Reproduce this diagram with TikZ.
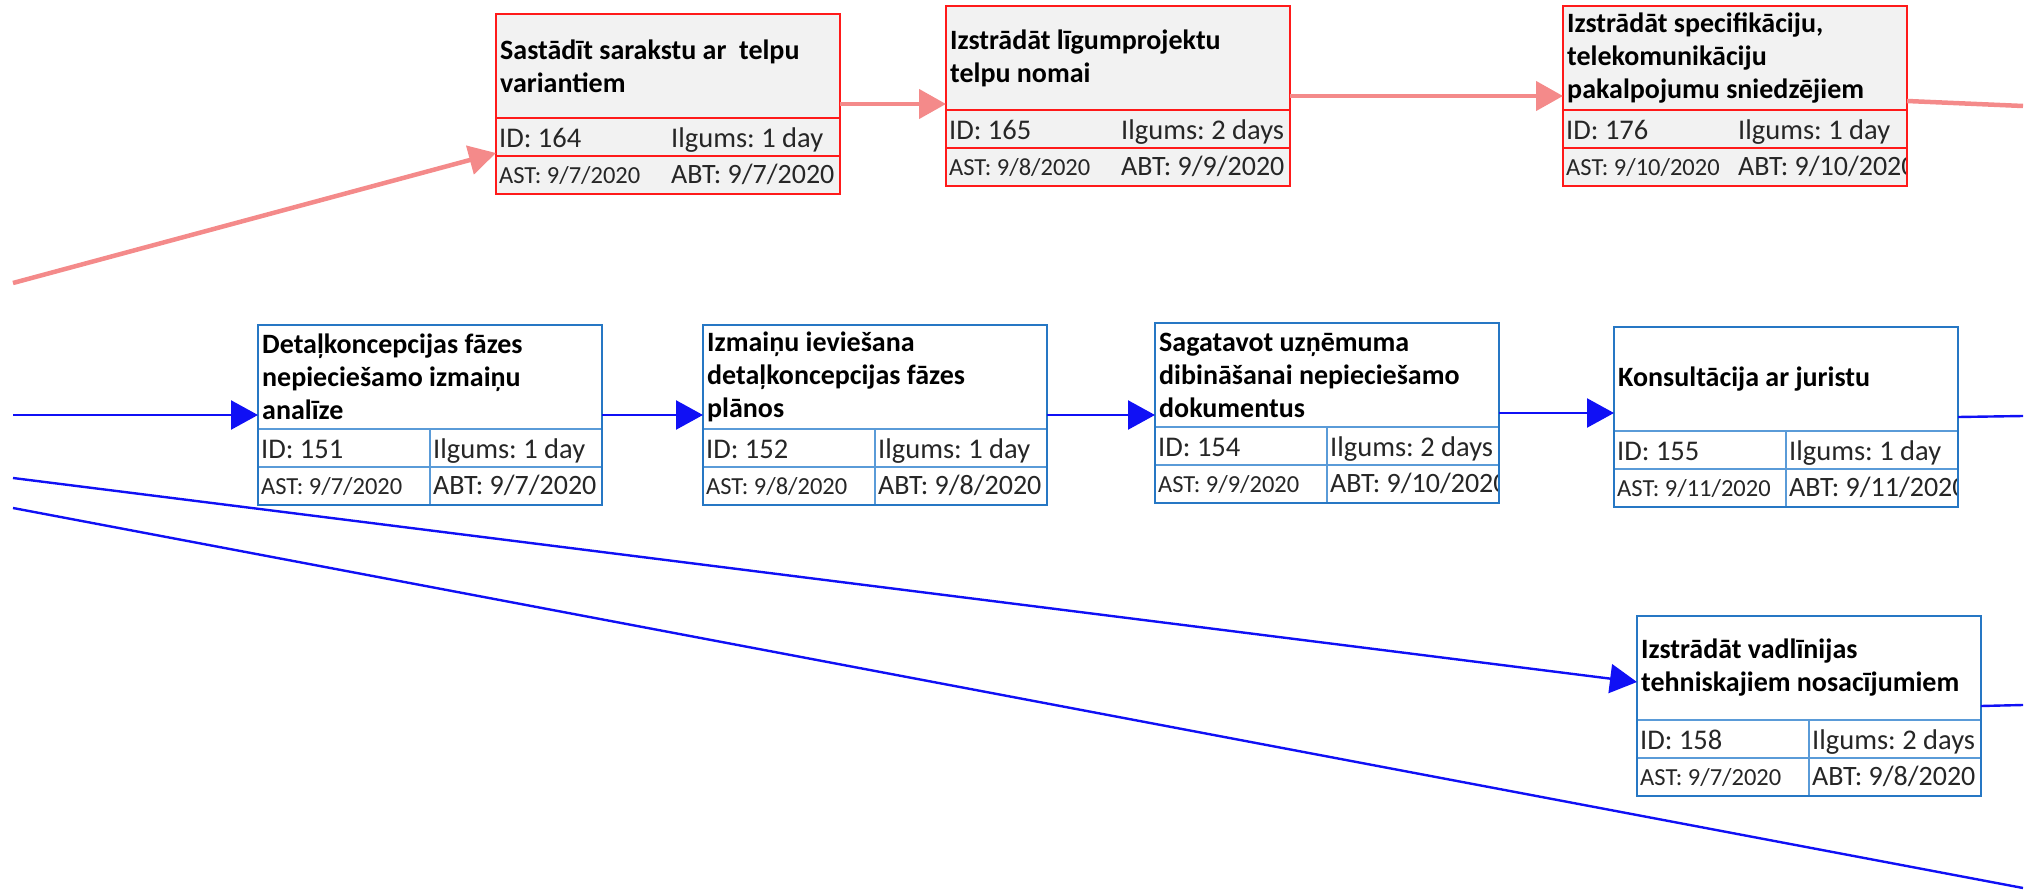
\documentclass[tikz,border=0pt]{standalone}
\usepackage{fontspec}
\setmainfont{Carlito}
\usetikzlibrary{arrows.meta,calc}
\frenchspacing

\definecolor{redfill}{HTML}{F2F2F2}
\definecolor{redframe}{HTML}{FF1A1A}
\definecolor{pinkflow}{HTML}{F48A8A}
\definecolor{blueframe}{HTML}{2677C4}
\definecolor{bluegridc}{HTML}{5A9BD8}
\definecolor{blueflow}{HTML}{1010F5}

\tikzset{
  redbody/.style={fill=redfill},
  redborder/.style={draw=redframe, line width=2pt},
  redgrid/.style={draw=redframe, line width=1.4pt},
  redvdiv/.style={draw=none},
  bluebody/.style={fill=white},
  blueborder/.style={draw=blueframe, line width=2.4pt},
  bluegrid/.style={draw=bluegridc, line width=1.4pt},
  bluevdiv/.style={draw=bluegridc, line width=1.4pt},
  titletext/.style={anchor=west, align=left, inner sep=0pt,
    font=\fontsize{28}{33}\selectfont\bfseries},
  idtext/.style={anchor=base west, inner sep=0pt,
    font=\fontsize{28.5}{30}\selectfont, text=black!85},
  datetext/.style={anchor=base west, inner sep=0pt,
    font=\fontsize{24.5}{28}\selectfont, text=black!85},
  abttext/.style={anchor=base west, inner sep=0pt,
    font=\fontsize{28}{30}\selectfont, text=black!85},
  pinkconn/.style={draw=pinkflow, line width=4.5pt,
    -{Triangle[length=27pt,width=29pt]}},
  pinkline/.style={draw=pinkflow, line width=4.5pt},
  blueconn/.style={draw=blueflow, line width=2.4pt,
    -{Triangle[length=27pt,width=29pt]}},
  blueline/.style={draw=blueflow, line width=2.4pt},
}

% #1 name, #2 top-left corner, #3 colour scheme (red/blue),
% #4 title, #5 ID, #6 duration, #7 start, #8 finish
\newcommand\taskbox[8]{%
  \node[#3body, draw=none, anchor=north west, inner sep=0pt, outer sep=0pt,
        minimum width=344pt, minimum height=180pt] (#1) at (#2) {};
  \begin{scope}
    \clip (#1.north west) rectangle (#1.south east);
    \draw[#3grid] ($(#1.north west)+(0,104)$) -- ($(#1.north east)+(0,104)$);
    \draw[#3grid] ($(#1.north west)+(0,142)$) -- ($(#1.north east)+(0,142)$);
    \draw[#3vdiv] ($(#1.north west)+(172,104)$) -- ($(#1.south west)+(172,0)$);
    \node[titletext] (#1-title) at ($(#1.north west)+(4,52)$) {#4};
    \node[idtext] (#1-id) at ($(#1.north west)+(3,133)$) {ID: #5};
    \node[idtext] (#1-dur) at ($(#1.north west)+(175,133)$) {Ilgums: #6};
    \node[datetext] (#1-ast) at ($(#1.north west)+(3,169)$) {AST: #7};
    \node[abttext] (#1-abt) at ($(#1.north west)+(175,169)$) {ABT: #8};
  \end{scope}
  \draw[#3border] (#1.north west) rectangle (#1.south east);
}

\begin{document}
\begin{tikzpicture}[x=1pt, y=-1pt]
  \useasboundingbox (0,0) rectangle (2038,891);

  % free ends of the connectors at the picture edges
  \coordinate (pinkin) at (13,283);
  \coordinate (pinkout) at (2023,106);
  \coordinate (bluein) at (13,415);
  \coordinate (blueout) at (2023,416);
  \coordinate (diagin) at (13,478);
  \coordinate (diagout) at (2023,705);
  \coordinate (longin) at (13,508);
  \coordinate (longout) at (2023,888);

  % task boxes
  \taskbox{n164}{496,14}{red}{Sastādīt sarakstu ar\ \ telpu\\variantiem}{164}{1 day}{9/7/2020}{9/7/2020}
  \taskbox{n165}{946,6}{red}{Izstrādāt līgumprojektu\\telpu nomai}{165}{2 days}{9/8/2020}{9/9/2020}
  \taskbox{n176}{1563,6}{red}{Izstrādāt specifikāciju,\\telekomunikāciju\\pakalpojumu sniedzējiem}{176}{1 day}{9/10/2020}{9/10/2020}
  \taskbox{n151}{258,325}{blue}{Detaļkoncepcijas fāzes\\nepieciešamo izmaiņu\\analīze}{151}{1 day}{9/7/2020}{9/7/2020}
  \taskbox{n152}{703,325}{blue}{Izmaiņu ieviešana\\detaļkoncepcijas fāzes\\plānos}{152}{1 day}{9/8/2020}{9/8/2020}
  \taskbox{n154}{1155,323}{blue}{Sagatavot uzņēmuma\\dibināšanai nepieciešamo\\dokumentus}{154}{2 days}{9/9/2020}{9/10/2020}
  \taskbox{n155}{1614,327}{blue}{Konsultācija ar juristu}{155}{1 day}{9/11/2020}{9/11/2020}
  \taskbox{n158}{1637,616}{blue}{Izstrādāt vadlīnijas\\tehniskajiem nosacījumiem}{158}{2 days}{9/7/2020}{9/8/2020}

  % connectors
  \draw[pinkconn] (pinkin) -- ($(n164.north west)+(0,139)$);
  \draw[pinkconn] (n164.east) -- (n164.east -| n165.west);
  \draw[pinkconn] (n165.east) -- (n165.east -| n176.west);
  \draw[pinkline] ($(n176.east)+(0,5)$) -- (pinkout);

  \draw[blueconn] (bluein) -- (n151.west);
  \draw[blueconn] (n151.east) -- (n151.east -| n152.west);
  \draw[blueconn] (n152.east) -- (n152.east -| n154.west);
  \draw[blueconn] (n154.east) -- (n154.east -| n155.west);
  \draw[blueline] (n155.east) -- (blueout);
  \draw[blueconn] (diagin) -- ($(n158.north west)+(0,66)$);
  \draw[blueline] (n158.east) -- (diagout);
  \draw[blueline] (longin) -- (longout);
\end{tikzpicture}
\end{document}
